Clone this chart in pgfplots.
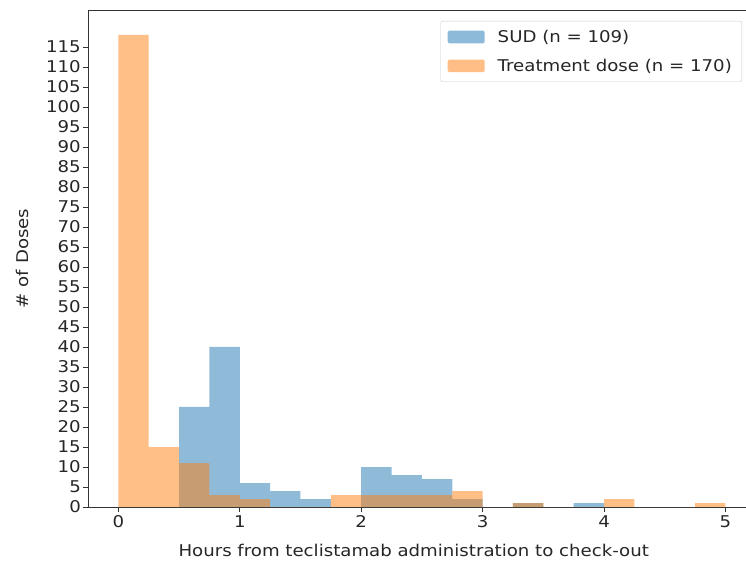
\documentclass[border=0pt]{standalone}
\usepackage{fontspec}
\setmainfont{DejaVu Sans}[FakeStretch=1.12]
\usepackage{pgfplots}
\pgfplotsset{compat=1.18}
\definecolor{c0}{HTML}{1F77B4}
\definecolor{c1}{HTML}{FF7F0E}
\definecolor{txt}{HTML}{262626}
\begin{document}
\begin{tikzpicture}[font=\fontsize{16.2}{19}\selectfont, text=txt]
\begin{axis}[
  name=ax,
  scale only axis,
  width=658pt, height=497pt,
  xmin=-0.25, xmax=5.169, ymin=0, ymax=124.25,
  xtick={0,1,2,3,4,5},
  ytick={0,5,...,115},
  /pgf/number format/assume math mode=true,
  axis x line*=bottom, axis y line*=left,
  axis line style={-, black!80, line width=0.8pt},
  tick align=outside,
  major tick length=5pt,
  tick style={black!80, line width=0.8pt},
  x tick label as interval=false,
  yticklabel style={inner xsep=2pt},
  xticklabel style={inner ysep=3pt},
  xlabel={Hours from teclistamab administration to check-out},
  ylabel={\# of Doses},
  every axis x label/.style={at={(axis description cs:0.495,-0.087)}, anchor=center},
  every axis y label/.style={at={(axis description cs:-0.1,0.5)}, anchor=center, rotate=90},
  legend style={at={(axis description cs:0.994,0.978)}, anchor=north east,
    draw=black!20, rounded corners=2pt, fill=white, inner xsep=7pt, inner ysep=8pt,
    row sep=13pt, text=txt, nodes={inner xsep=3pt, inner ysep=1pt}},
  legend cell align=left,
  legend image code/.code={\fill[#1] (0pt,-6.3pt) rectangle (37pt,6.3pt); \path (47pt,0pt);},
]
\addplot[ybar interval, fill=c0, fill opacity=0.5, draw=none] coordinates {
(0,0) (0.25,0) (0.5,25) (0.75,40) (1,6) (1.25,4) (1.5,2) (1.75,0) (2,10) (2.25,8)
(2.5,7) (2.75,2) (3,0) (3.25,1) (3.5,0) (3.75,1) (4,0) (4.25,0) (4.5,0) (4.75,0) (5,0)};
\addlegendentry{SUD (n = 109)}
\addplot[ybar interval, fill=c1, fill opacity=0.5, draw=none] coordinates {
(0,118) (0.25,15) (0.5,11) (0.75,3) (1,2) (1.25,0) (1.5,0) (1.75,3) (2,3) (2.25,3)
(2.5,3) (2.75,4) (3,0) (3.25,1) (3.5,0) (3.75,0) (4,2) (4.25,0) (4.5,0) (4.75,1) (5,0)};
\addlegendentry{Treatment dose (n = 170)}
\draw[black!80, line width=0.8pt] (rel axis cs:0,1) -- (rel axis cs:1,1);
\end{axis}
\pgfresetboundingbox
\path[use as bounding box] (ax.south west) ++(-88pt,-60pt) rectangle ++(746pt,567pt);
\end{tikzpicture}
\end{document}
